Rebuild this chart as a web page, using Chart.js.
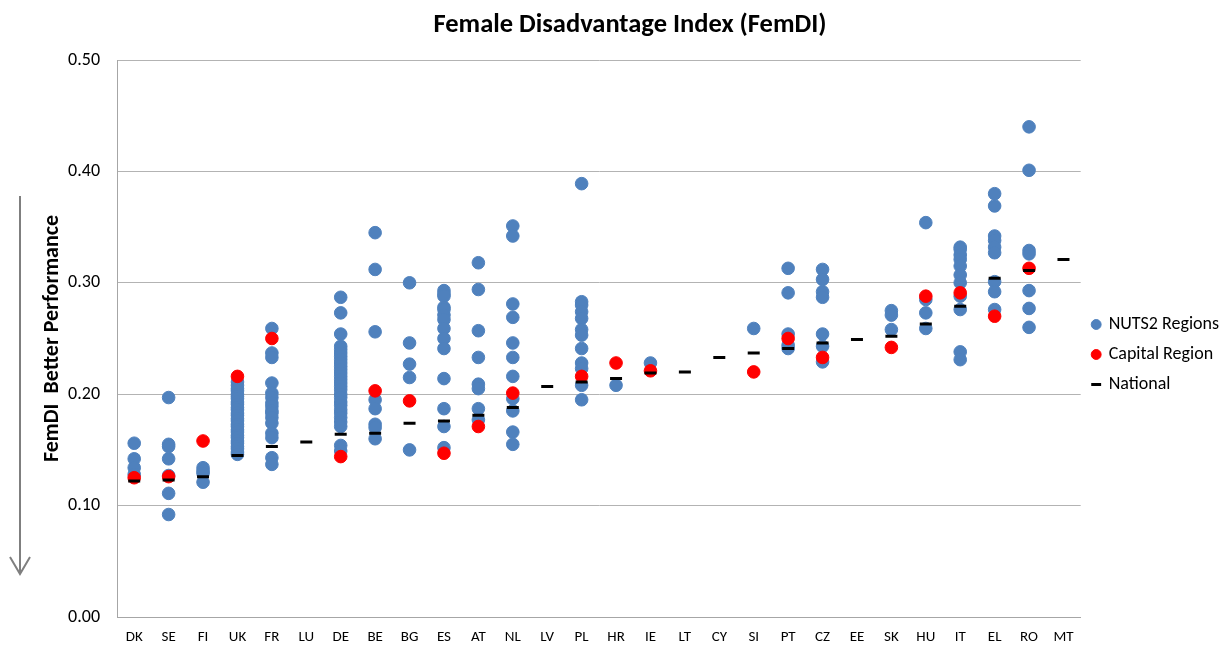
<!DOCTYPE html>
<html>
<head>
<meta charset="utf-8">
<title>Female Disadvantage Index (FemDI)</title>
<script src="https://cdn.jsdelivr.net/npm/chart.js@4.4.1/dist/chart.umd.min.js"></script>
<style>
  html, body { margin: 0; padding: 0; background: #fff; }
  #wrap { position: relative; width: 1229px; height: 649px; }
</style>
</head>
<body>
<div id="wrap"><canvas id="myChart" width="1229" height="649"></canvas></div>
<script>
// countries along the x axis
const countries = ["DK", "SE", "FI", "UK", "FR", "LU", "DE", "BE", "BG", "ES", "AT", "NL", "LV", "PL",
  "HR", "IE", "LT", "CY", "SI", "PT", "CZ", "EE", "SK", "HU", "IT", "EL", "RO", "MT"];

// national value per country
const nationalValues = [0.122, 0.123, 0.126, 0.145, 0.153, 0.157, 0.164, 0.165, 0.174, 0.176, 0.181, 0.188,
  0.207, 0.211, 0.214, 0.219, 0.220, 0.233, 0.237, 0.241, 0.246, 0.249, 0.252, 0.263, 0.279, 0.304, 0.311, 0.321];

// capital region per country (null = no separate capital region)
const capitalValues = [0.125, 0.126, 0.158, 0.216, 0.250, null, 0.144, 0.203, 0.194, 0.147, 0.171, 0.201,
  null, 0.216, 0.228, 0.221, null, null, 0.220, 0.250, 0.233, null, 0.242, 0.288, 0.291, 0.270, 0.313, null];

// other NUTS2 regions, one list per country (same order as countries)
const nutsValues = [
  [0.156, 0.142, 0.134, 0.128],                                           // DK
  [0.197, 0.155, 0.153, 0.142, 0.127, 0.111, 0.092],                      // SE
  [0.134, 0.131, 0.129, 0.121],                                           // FI
  [0.211, 0.208, 0.205, 0.203, 0.200, 0.198, 0.196, 0.193, 0.191, 0.188,
   0.186, 0.183, 0.181, 0.178, 0.176, 0.173, 0.171, 0.168, 0.166, 0.163,
   0.161, 0.158, 0.156, 0.153, 0.151, 0.148, 0.146],                      // UK
  [0.259, 0.237, 0.233, 0.210, 0.201, 0.197, 0.192, 0.189, 0.185, 0.183,
   0.179, 0.174, 0.165, 0.161, 0.143, 0.137],                             // FR
  [],                                                                     // LU
  [0.287, 0.273, 0.254, 0.243, 0.240, 0.237, 0.234, 0.231, 0.228, 0.225,
   0.222, 0.219, 0.216, 0.213, 0.210, 0.207, 0.204, 0.200, 0.197, 0.193,
   0.190, 0.186, 0.183, 0.179, 0.175, 0.171, 0.154, 0.149],               // DE
  [0.345, 0.312, 0.256, 0.195, 0.187, 0.173, 0.170, 0.160],               // BE
  [0.300, 0.246, 0.227, 0.215, 0.150],                                    // BG
  [0.293, 0.290, 0.288, 0.278, 0.276, 0.271, 0.267, 0.259, 0.250, 0.241,
   0.214, 0.187, 0.171, 0.152],                                           // ES
  [0.318, 0.294, 0.257, 0.233, 0.209, 0.205, 0.187, 0.177],               // AT
  [0.351, 0.342, 0.281, 0.269, 0.246, 0.233, 0.216, 0.196, 0.185, 0.166, 0.155], // NL
  [],                                                                     // LV
  [0.389, 0.283, 0.280, 0.274, 0.268, 0.258, 0.253, 0.241, 0.228, 0.223, 0.208, 0.195], // PL
  [0.208],                                                                // HR
  [0.228],                                                                // IE
  [],                                                                     // LT
  [],                                                                     // CY
  [0.259],                                                                // SI
  [0.313, 0.291, 0.254, 0.244, 0.241],                                    // PT
  [0.312, 0.303, 0.292, 0.287, 0.254, 0.243, 0.229],                      // CZ
  [],                                                                     // EE
  [0.275, 0.271, 0.258],                                                  // SK
  [0.354, 0.285, 0.273, 0.259],                                           // HU
  [0.332, 0.330, 0.325, 0.321, 0.315, 0.307, 0.300, 0.288, 0.276, 0.238, 0.231], // IT
  [0.380, 0.369, 0.342, 0.338, 0.332, 0.327, 0.301, 0.292, 0.276],        // EL
  [0.440, 0.401, 0.329, 0.326, 0.293, 0.277, 0.260],                      // RO
  []                                                                      // MT
];

const yTicks = [0, 0.1, 0.2, 0.3, 0.4, 0.5];

const chartTitle = "Female Disadvantage Index (FemDI)";

const FONT = "Carlito, Lato, 'Liberation Sans', sans-serif";

// flatten to scatter points on the category axis
const nutsPoints = [];
nutsValues.forEach((list, i) => {
  list.forEach((v) => nutsPoints.push({ x: countries[i], y: v }));
});
const capitalPoints = capitalValues
  .map((v, i) => ({ x: countries[i], y: v }))
  .filter((p) => p.y !== null);
const nationalPoints = nationalValues.map((v, i) => ({ x: countries[i], y: v }));

// title (a bit right of centre, as in the original) and the grey arrow at the far left
const decorPlugin = {
  id: "decor",
  afterDraw(chart) {
    const ctx = chart.ctx;
    ctx.save();
    ctx.fillStyle = "#000";
    ctx.font = "bold 26.5px " + FONT;
    ctx.textAlign = "center";
    ctx.textBaseline = "middle";
    ctx.fillText(chartTitle, 630, 25);

    ctx.strokeStyle = "#7f7f7f";
    ctx.lineWidth = 2;
    ctx.beginPath();
    ctx.moveTo(20, 196);
    ctx.lineTo(20, 574);
    ctx.moveTo(10, 557);
    ctx.lineTo(20, 574);
    ctx.lineTo(30, 557);
    ctx.stroke();
    ctx.restore();
  },
};

const ctx = document.getElementById("myChart");
new Chart(ctx, {
  type: "scatter",
  data: {
    labels: countries,
    datasets: [
      {
        label: "NUTS2 Regions",
        data: nutsPoints,
        backgroundColor: "#4f81bd",
        borderColor: "#4f81bd",
        pointRadius: 6.3,
        pointHoverRadius: 6.3,
        order: 3,
      },
      {
        label: "Capital Region",
        data: capitalPoints,
        backgroundColor: "#ff0000",
        borderColor: "#ff0000",
        pointRadius: 6.3,
        pointHoverRadius: 6.3,
        order: 2,
      },
      {
        label: "National",
        data: nationalPoints,
        pointStyle: "line",
        backgroundColor: "#000000",
        borderColor: "#000000",
        borderWidth: 3,
        pointBorderWidth: 3,
        pointRadius: 6,
        pointHoverRadius: 6,
        order: 1,
      },
    ],
  },
  options: {
    responsive: false,
    animation: false,
    layout: { padding: { left: 0, right: 0, top: 60, bottom: 0 } },
    plugins: {
      title: { display: false },
      legend: {
        position: "right",
        labels: {
          usePointStyle: true,
          boxWidth: 7,
          boxHeight: 7,
          padding: 12,
          color: "#000",
          font: { family: FONT, size: 18 },
          sort: (a, b) => a.datasetIndex - b.datasetIndex,
        },
      },
      tooltip: { enabled: false },
    },
    scales: {
      x: {
        type: "category",
        labels: countries,
        offset: true,
        grid: { display: false, drawTicks: false },
        border: { display: true, color: "#a6a6a6" },
        ticks: {
          color: "#000",
          padding: 11,
          font: { family: FONT, size: 15 },
        },
        afterFit(scale) { scale.height = 32; },
      },
      y: {
        min: 0,
        max: 0.5,
        afterBuildTicks(scale) { scale.ticks = yTicks.map((v) => ({ value: v })); },
        grid: { color: "#b3b3b3", drawTicks: false },
        border: { display: true, color: "#a6a6a6" },
        ticks: {
          color: "#000",
          padding: 17,
          font: { family: FONT, size: 18 },
          callback: (v) => v.toFixed(2),
        },
        title: {
          display: true,
          text: "FemDI  Better Performance",
          color: "#000",
          font: { family: FONT, size: 22, weight: "bold" },
          padding: { top: 39, bottom: 0 },
        },
        afterFit(scale) { scale.width = 117; },
      },
    },
  },
  plugins: [decorPlugin],
});
</script>
</body>
</html>
